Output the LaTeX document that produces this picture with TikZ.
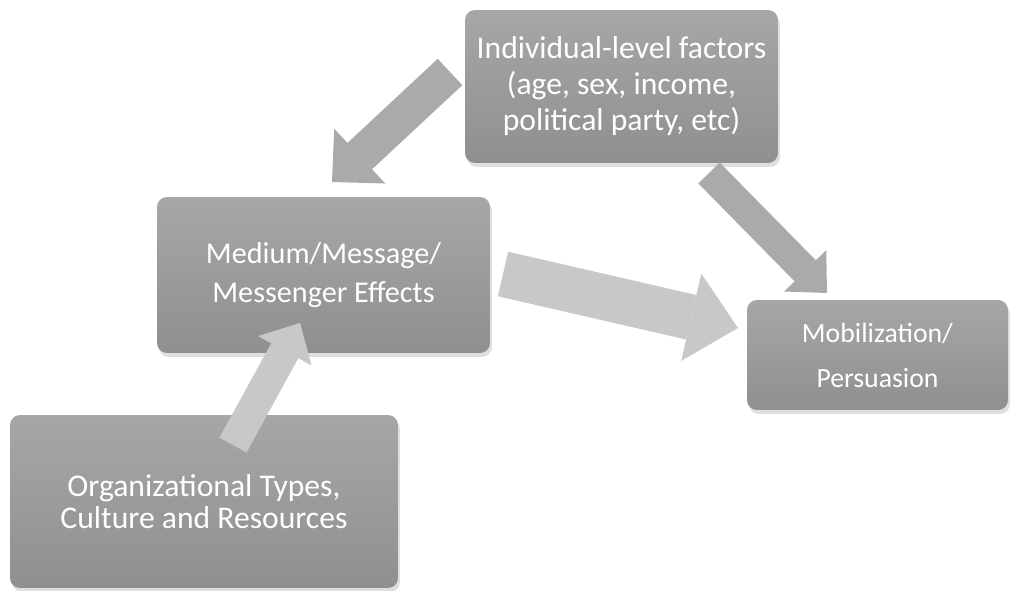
\documentclass[tikz,border=0pt]{standalone}
\usepackage{fontspec}
\setmainfont{Carlito}
\usetikzlibrary{arrows.meta,shadows}

\definecolor{boxgray}{HTML}{979797}
\definecolor{darkarrow}{HTML}{AAAAAA}
\definecolor{lightarrow}{HTML}{C8C8C8}

\begin{document}
\begin{tikzpicture}[x=0.02cm, y=-0.02cm]
\tikzset{ box/.style={rounded corners=2mm, top color=boxgray!85!white, bottom color=boxgray!95!black,
            text=white, align=center, inner sep=0pt,
            drop shadow={opacity=0.25, shadow xshift=0.4mm, shadow yshift=-0.8mm}},
          fatarrow/.style n args={3}{line width=#1, -{Triangle[length=#2, width=#3, line width=0pt]}},
}
\useasboundingbox (0,0) rectangle (1011,591);
%\draw [lightgray, dashed](0,0) grid[step=100] (1011,591);

\node [box, minimum width=62.6mm, minimum height=30.6mm, font=\fontsize{18}{20.5}\selectfont]
      (indiv) at (621.5,86.5) {Individual-level factors\\(age, sex, income,\\political party, etc)};
\node [box, minimum width=66.6mm, minimum height=31.2mm, font=\fontsize{17.2}{22.2}\selectfont]
      (medium) at (323.5,275) {Medium/Message/\\Messenger Effects};
\node [box, minimum width=77.6mm, minimum height=34.6mm, font=\fontsize{18}{17.8}\selectfont]
      (org) at (204,501.5) {Organizational Types,\\Culture and Resources};
\node [box, minimum width=52.2mm, minimum height=22mm, font=\fontsize{15.8}{25.6}\selectfont]
      (mob) at (877.5,355) {Mobilization/\\Persuasion};

% arrow ends
\coordinate (a1s) at (450,72);
\coordinate (a1e) at (332,182);
\coordinate (a2s) at (709,173);
\coordinate (a2e) at (827,293);
\coordinate (a3s) at (503,274);
\coordinate (a3e) at (738,328);
\coordinate (a4s) at (233,445);
\coordinate (a4e) at (300,323);

\draw [fatarrow={20.5pt}{21.6pt}{42.7pt}, darkarrow]  (a1s) -- (a1e);
\draw [fatarrow={17pt}{17.7pt}{33.6pt}, darkarrow]    (a2s) -- (a2e);
\draw [fatarrow={26pt}{27.3pt}{51pt}, lightarrow]     (a3s) -- (a3e);
\draw [fatarrow={17.6pt}{18pt}{34.7pt}, lightarrow]   (a4s) -- (a4e);

\end{tikzpicture}
\end{document}
